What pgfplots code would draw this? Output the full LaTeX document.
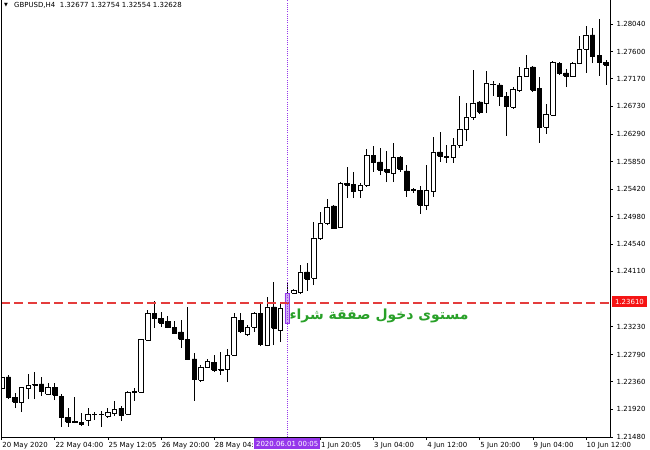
\documentclass[border=0pt]{standalone}
\usepackage{pgfplots}
\usepackage{pgfplotstable}
\pgfplotsset{compat=1.18}
\usepackage{fontspec}
\setmainfont{DejaVu Sans}
\newfontfamily\arabicfont[Script=Arabic]{DejaVu Sans}
\TeXXeTstate=1
\definecolor{selpurple}{RGB}{150,55,235}
\definecolor{sellav}{RGB}{205,175,240}
\definecolor{entryred}{RGB}{228,60,60}
\definecolor{boxred}{RGB}{245,20,20}
\definecolor{txtgreen}{RGB}{40,160,40}

\pgfplotstableread{
i O H L C
0 1.22258 1.22480 1.22147 1.22433
1 1.22433 1.22465 1.22083 1.22115
2 1.22115 1.22179 1.21940 1.22036
3 1.22036 1.22274 1.21877 1.22274
4 1.22258 1.22480 1.22083 1.22306
5 1.22306 1.22512 1.22083 1.22322
6 1.22322 1.22433 1.22131 1.22210
7 1.22163 1.22337 1.22147 1.22274
8 1.22274 1.22337 1.22067 1.22147
9 1.22131 1.22163 1.21639 1.21797
10 1.21797 1.21940 1.21639 1.21718
11 1.21726 1.22115 1.21702 1.21718
12 1.21718 1.21861 1.21654 1.21686
13 1.21750 1.21940 1.21654 1.21845
14 1.21837 1.21877 1.21750 1.21845
15 1.21845 1.21893 1.21639 1.21837
16 1.21813 1.21940 1.21782 1.21877
17 1.21861 1.22052 1.21813 1.21924
18 1.21940 1.21972 1.21734 1.21829
19 1.21845 1.22210 1.21829 1.22195
20 1.22195 1.22258 1.22052 1.22202
21 1.22195 1.23036 1.22179 1.23036
22 1.23020 1.23497 1.23005 1.23449
23 1.23449 1.23640 1.23211 1.23370
24 1.23370 1.23465 1.23227 1.23291
25 1.23322 1.23402 1.23211 1.23227
26 1.23227 1.23322 1.23132 1.23132
27 1.23148 1.23338 1.22893 1.23036
28 1.23036 1.23545 1.22703 1.22719
29 1.22719 1.22814 1.22052 1.22401
30 1.22385 1.22623 1.22353 1.22592
31 1.22592 1.22719 1.22576 1.22687
32 1.22671 1.22782 1.22512 1.22544
33 1.22544 1.22830 1.22465 1.22560
34 1.22560 1.22878 1.22353 1.22782
35 1.22782 1.23449 1.22766 1.23386
36 1.23338 1.23449 1.23132 1.23163
37 1.23116 1.23259 1.23084 1.23227
38 1.23227 1.23465 1.23148 1.23449
39 1.23449 1.23624 1.22925 1.22957
40 1.22941 1.23704 1.22925 1.23545
41 1.23545 1.23942 1.22941 1.23211
42 1.23179 1.23608 1.22989 1.23529
43 1.23291 1.23926 1.23259 1.23767
44 1.23767 1.23831 1.23759 1.23815
45 1.23783 1.24212 1.23751 1.24101
46 1.24101 1.24244 1.23799 1.23989
47 1.24005 1.24895 1.23894 1.24641
48 1.24641 1.25054 1.24609 1.24879
49 1.24879 1.25260 1.24847 1.25133
50 1.25149 1.25165 1.24799 1.24799
51 1.24815 1.25530 1.24799 1.25514
52 1.25514 1.25768 1.25276 1.25483
53 1.25498 1.25689 1.25276 1.25387
54 1.25403 1.25514 1.25276 1.25483
55 1.25483 1.26054 1.25451 1.25948
56 1.25948 1.26102 1.25689 1.25848
57 1.25848 1.26070 1.25641 1.25721
58 1.25729 1.26023 1.25530 1.25689
59 1.25673 1.26150 1.25530 1.25927
60 1.25927 1.25943 1.25689 1.25737
61 1.25705 1.25800 1.25292 1.25403
62 1.25403 1.25435 1.25355 1.25411
63 1.25403 1.25467 1.25022 1.25165
64 1.25165 1.25800 1.25085 1.25403
65 1.25387 1.26245 1.25292 1.26007
66 1.26007 1.26324 1.25848 1.25943
67 1.25943 1.26118 1.25832 1.25927
68 1.25927 1.26229 1.25832 1.26118
69 1.26118 1.26896 1.26070 1.26372
70 1.26372 1.26785 1.26181 1.26563
71 1.26563 1.27309 1.26515 1.26785
72 1.26801 1.26817 1.26610 1.26642
73 1.26785 1.27293 1.26626 1.27103
74 1.27079 1.27134 1.26896 1.27087
75 1.27071 1.27103 1.26737 1.26896
76 1.26896 1.26960 1.26261 1.26737
77 1.26721 1.27039 1.26690 1.27007
78 1.26991 1.27357 1.26960 1.27214
79 1.27214 1.27547 1.27198 1.27341
80 1.27357 1.27365 1.26960 1.26991
81 1.27023 1.27198 1.26150 1.26404
82 1.26404 1.26769 1.26293 1.26610
83 1.26594 1.27452 1.26579 1.27436
84 1.27420 1.27444 1.27230 1.27262
85 1.27262 1.27325 1.27039 1.27214
86 1.27214 1.27436 1.27198 1.27420
87 1.27420 1.27849 1.27404 1.27643
88 1.27643 1.28008 1.27262 1.27865
89 1.27865 1.27976 1.27420 1.27532
90 1.27547 1.28119 1.27214 1.27436
91 1.27436 1.27468 1.27071 1.27389
}\candles

\pgfplotsset{
  wick/.style={draw=black, line width=0.9bp, mark=none, solid},
  bull/.style={draw=black, fill=white, line width=0.9bp, mark=none, solid, line join=miter},
  bear/.style={draw=black, fill=black, line width=0.9bp, mark=none, solid, line join=miter},
  sel/.style={draw=selpurple, fill=sellav, line width=0.9bp, mark=none, solid, line join=miter},
}

\begin{document}
\begin{tikzpicture}
\useasboundingbox (0,0) rectangle (650bp,450bp);
\begin{axis}[
  at={(1bp,13bp)}, anchor=south west,
  scale only axis, width=609bp, height=437bp,
  xmin=-0.105, xmax=91.61,
  ymin=1.21480, ymax=1.28421,
  axis line style={draw=none},
  scaled ticks=false,
  tick align=outside,
  major tick length=3bp,
  tick style={black, line width=0.8bp},
  xtick pos=left, ytick pos=right,
  xticklabel pos=left, yticklabel pos=right,
  xtick={0,8,16,24,32,40,48,56,64,72,80,88},
  xticklabels={20 May 2020, 22 May 04:00, 25 May 12:05, 26 May 20:00, 28 May 04:00, 29 May 12:00, 1 Jun 20:05, 3 Jun 04:00, 4 Jun 12:00, 5 Jun 20:00, 9 Jun 04:00, 10 Jun 12:00},
  ytick={1.21480,1.21920,1.22360,1.22790,1.23230,1.24110,1.24540,1.24980,1.25420,1.25850,1.26290,1.26730,1.27170,1.27600,1.28040},
  yticklabels={1.21480,1.21920,1.22360,1.22790,1.23230,1.24110,1.24540,1.24980,1.25420,1.25850,1.26290,1.26730,1.27170,1.27600,1.28040},
  xticklabel style={anchor=north west, inner sep=0pt, xshift=0.5bp, yshift=-2.5bp, font=\fontsize{7}{8}\selectfont},
  yticklabel style={anchor=west, inner sep=0pt, xshift=3.5bp, font=\fontsize{7}{8}\selectfont},
]
\pgfplotsforeachungrouped \r in {0,...,91}{%
  \pgfplotstablegetelem{\r}{i}\of\candles \let\ci\pgfplotsretval
  \pgfplotstablegetelem{\r}{O}\of\candles \let\co\pgfplotsretval
  \pgfplotstablegetelem{\r}{H}\of\candles \let\ch\pgfplotsretval
  \pgfplotstablegetelem{\r}{L}\of\candles \let\cl\pgfplotsretval
  \pgfplotstablegetelem{\r}{C}\of\candles \let\cc\pgfplotsretval
  \pgfmathsetmacro\xl{\ci-0.34}%
  \pgfmathsetmacro\xr{\ci+0.34}%
  \ifdim\cc pt<\co pt
    \let\candlo\cc \let\candhi\co \def\cstyle{bear}%
  \else
    \let\candlo\co \let\candhi\cc \def\cstyle{bull}%
  \fi
  \ifnum\ci=43 \def\cstyle{sel}\fi
  \edef\temp{%
    \noexpand\addplot[wick] coordinates {(\ci,\cl) (\ci,\ch)};%
    \noexpand\addplot[\cstyle] coordinates {(\xl,\candlo) (\xr,\candlo) (\xr,\candhi) (\xl,\candhi) (\xl,\candlo)};%
  }%
  \temp
}
\addplot[entryred, line width=1.4bp, dash pattern=on 9bp off 4.3bp] coordinates {(-0.105,1.23610) (91.61,1.23610)};
\addplot[selpurple, line width=1bp, dash pattern=on 1bp off 1.2bp] coordinates {(43,1.21480) (43,1.28421)};
\end{axis}
\draw[line width=0.8bp] (1bp,450bp) -- (1bp,13bp) -- (610bp,13bp) -- (610bp,450bp);
\node[fill=boxred, text=white, inner xsep=3.5bp, inner ysep=0pt, minimum height=11bp, font=\fontsize{7}{8}\selectfont] at (629.5bp,148.5bp) {1.23610};
\node[fill=selpurple, text=white, inner xsep=1.8bp, inner ysep=0pt, minimum height=11bp, font=\fontsize{7}{8}\selectfont] at (287.2bp,6.5bp) {2020.06.01 00:05};
\node[anchor=west, inner sep=0pt, font=\fontsize{7}{8}\selectfont] at (14bp,444.5bp) {GBPUSD,H4\ \ 1.32677 1.32754 1.32554 1.32628};
\node[inner sep=0pt, font=\fontsize{5}{5}\selectfont] at (6bp,444.5bp) {▼};
\node[txtgreen, inner sep=0pt] at (379bp,134bp) {\arabicfont\bfseries\fontsize{14}{16}\selectfont\beginR مستوى دخول صفقة شراء\endR};
\end{tikzpicture}
\end{document}
